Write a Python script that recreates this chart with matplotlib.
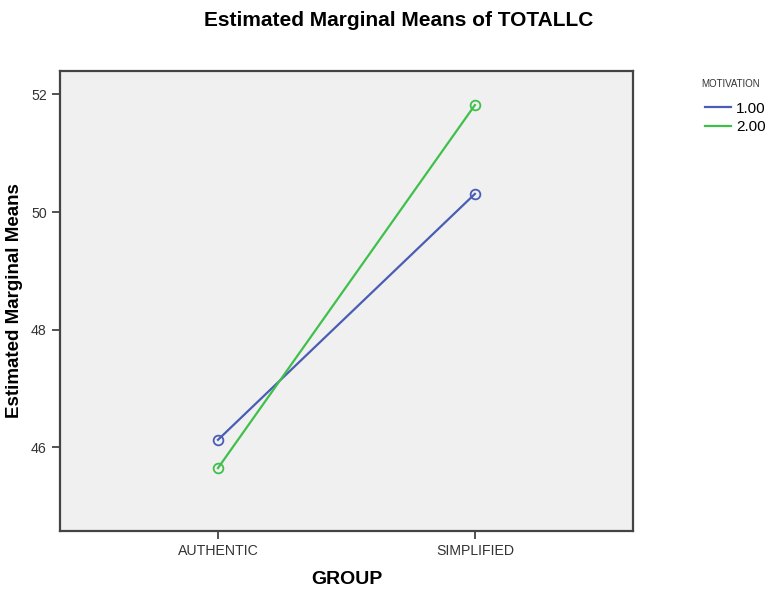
import matplotlib.pyplot as plt
from matplotlib.lines import Line2D

plt.rcParams['font.family'] = ['Liberation Sans', 'DejaVu Sans']

groups = ['AUTHENTIC', 'SIMPLIFIED']
motivation_levels = ['1.00', '2.00']
means_1 = [46.13, 50.31]
means_2 = [45.65, 51.82]
colors = ['#4a5db5', '#40c04a']

fig = plt.figure(figsize=(7.69, 5.91), dpi=100)
ax = fig.add_axes([0.078, 0.1015, 0.745, 0.7785])
ax.set_facecolor('#f0f0f0')

xs = range(len(groups))
for vals, lab, c in zip([means_1, means_2], motivation_levels, colors):
    ax.plot(xs, vals, color=c, lw=1.6, marker='o', markersize=7,
            markerfacecolor='none', markeredgewidth=1.3)

ax.set_xlim(-0.615, 1.615)
ax.set_ylim(44.58, 52.4)
ax.set_xticks(list(xs))
ax.set_xticklabels(groups)
ax.set_yticks([46, 48, 50, 52])

for s in ax.spines.values():
    s.set_color('#444444')
    s.set_linewidth(1.6)
ax.tick_params(direction='out', length=6, width=1.3, color='#444444',
               labelsize=10.2, labelcolor='#333333')

ax.set_xlabel('GROUP', fontsize=14, fontweight='bold', labelpad=9)
ax.set_ylabel('Estimated Marginal Means', fontsize=13.5, fontweight='bold', labelpad=6)
fig.text(0.518, 0.965, 'Estimated Marginal Means of TOTALLC', ha='center', va='center',
         fontsize=15, fontweight='bold')

# legend: title as separate text, lines only
fig.text(0.912, 1 - 84 / 591, 'MOTIVATION', ha='left', va='center', fontsize=7, color='#333333')
handles = [Line2D([], [], color=c, lw=1.6) for c in colors]
leg = fig.legend(handles, motivation_levels, loc='upper left', bbox_to_anchor=(0.9168, 0.828),
                 frameon=False, fontsize=11, handlelength=1.7, handletextpad=0.35,
                 labelspacing=0.3, borderpad=0, borderaxespad=0)

fig.savefig('out.png', dpi=100)
